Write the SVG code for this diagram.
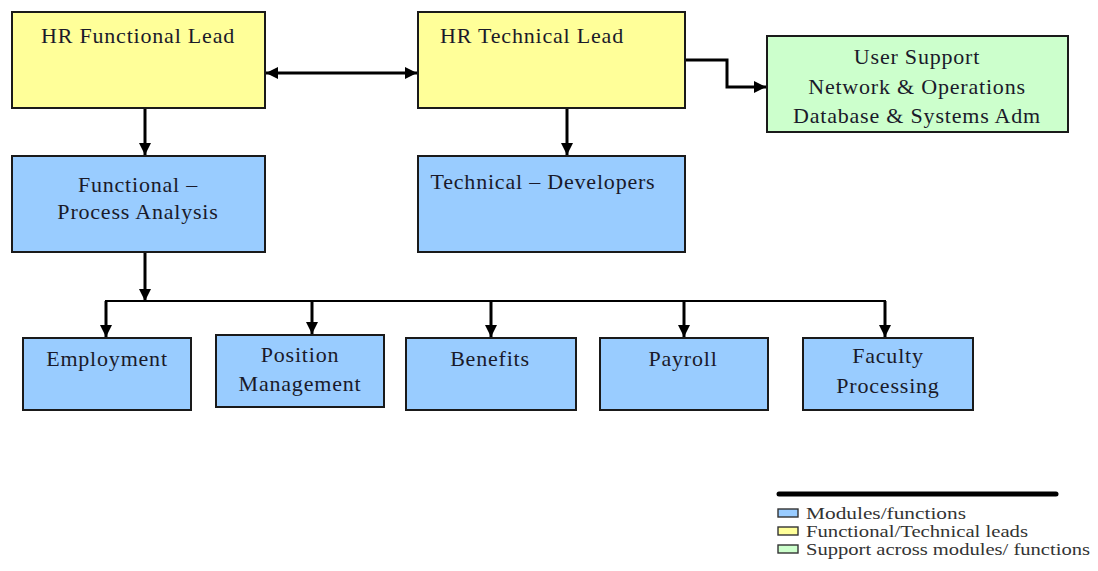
<svg xmlns="http://www.w3.org/2000/svg" width="1098" height="571" viewBox="0 0 1098 571">
  <style>
    .box { stroke: #1a1a1a; stroke-width: 2; }
    .blue { fill: #99ccff; }
    .yellow { fill: #ffff99; }
    .green { fill: #ccffcc; }
    .lbl { font-family: "Liberation Serif", "Times New Roman", serif; font-size: 22px; letter-spacing: 0.8px; fill: #1a1a2a; text-anchor: middle; }
    .leg { font-family: "Liberation Serif", "Times New Roman", serif; font-size: 16px; fill: #333; }
    .wire { fill: none; stroke: #000; stroke-width: 3; }
    .thin { fill: none; stroke: #000; stroke-width: 2; }
  </style>
  <defs>
    <marker id="arrow" viewBox="0 0 10 10" refX="10" refY="5" markerWidth="4" markerHeight="4" orient="auto-start-reverse" markerUnits="strokeWidth">
      <path d="M0,0 L10,5 L0,10 z" fill="#000"/>
    </marker>
  </defs>

  <rect width="1098" height="571" fill="#fff"/>

  <!-- connectors -->
  <g id="connectors">
    <line class="wire" x1="266" y1="73" x2="417" y2="73" marker-start="url(#arrow)" marker-end="url(#arrow)"/>
    <polyline class="wire" points="685,60 727,60 727,87 766,87" marker-end="url(#arrow)"/>
    <line class="wire" x1="145" y1="108" x2="145" y2="155" marker-end="url(#arrow)"/>
    <line class="wire" x1="567" y1="108" x2="567" y2="155" marker-end="url(#arrow)"/>
    <line class="wire" x1="145" y1="252" x2="145" y2="301" marker-end="url(#arrow)"/>
    <line class="thin" x1="105" y1="301" x2="886" y2="301"/>
    <line class="wire" x1="106" y1="301" x2="106" y2="337" marker-end="url(#arrow)"/>
    <line class="wire" x1="312" y1="301" x2="312" y2="334" marker-end="url(#arrow)"/>
    <line class="wire" x1="491" y1="301" x2="491" y2="337" marker-end="url(#arrow)"/>
    <line class="wire" x1="684" y1="301" x2="684" y2="337" marker-end="url(#arrow)"/>
    <line class="wire" x1="885" y1="301" x2="885" y2="337" marker-end="url(#arrow)"/>
  </g>

  <!-- leads -->
  <g id="hr-functional-lead">
    <rect class="box yellow" x="12" y="12" width="253" height="96"/>
    <text class="lbl" x="138" y="43">HR Functional Lead</text>
  </g>
  <g id="hr-technical-lead">
    <rect class="box yellow" x="418" y="12" width="267" height="96"/>
    <text class="lbl" x="532" y="43">HR Technical Lead</text>
  </g>

  <!-- support -->
  <g id="support">
    <rect class="box green" x="767" y="36" width="301" height="96"/>
    <text class="lbl" x="917" y="64">User Support</text>
    <text class="lbl" x="917" y="94">Network &amp; Operations</text>
    <text class="lbl" x="917" y="123">Database &amp; Systems Adm</text>
  </g>

  <!-- second tier -->
  <g id="functional-process-analysis">
    <rect class="box blue" x="12" y="156" width="253" height="96"/>
    <text class="lbl" x="138" y="192">Functional –</text>
    <text class="lbl" x="138" y="219">Process Analysis</text>
  </g>
  <g id="technical-developers">
    <rect class="box blue" x="418" y="156" width="267" height="96"/>
    <text class="lbl" x="543" y="189">Technical – Developers</text>
  </g>

  <!-- modules -->
  <g id="employment">
    <rect class="box blue" x="23" y="338" width="168" height="72"/>
    <text class="lbl" x="107" y="366">Employment</text>
  </g>
  <g id="position-management">
    <rect class="box blue" x="216" y="335" width="168" height="72"/>
    <text class="lbl" x="300" y="362">Position</text>
    <text class="lbl" x="300" y="391">Management</text>
  </g>
  <g id="benefits">
    <rect class="box blue" x="406" y="338" width="170" height="72"/>
    <text class="lbl" x="490" y="366">Benefits</text>
  </g>
  <g id="payroll">
    <rect class="box blue" x="600" y="338" width="168" height="72"/>
    <text class="lbl" x="683" y="366">Payroll</text>
  </g>
  <g id="faculty-processing">
    <rect class="box blue" x="803" y="338" width="170" height="72"/>
    <text class="lbl" x="888" y="363">Faculty</text>
    <text class="lbl" x="888" y="393">Processing</text>
  </g>

  <!-- legend -->
  <g id="legend">
    <line x1="779" y1="494" x2="1056" y2="494" stroke="#000" stroke-width="5" stroke-linecap="round"/>
    <rect x="778" y="509" width="20" height="8" fill="#99ccff" stroke="#333" stroke-width="1.4"/>
    <rect x="778" y="527" width="20" height="8" fill="#ffff99" stroke="#333" stroke-width="1.4"/>
    <rect x="778" y="545" width="20" height="8" fill="#ccffcc" stroke="#333" stroke-width="1.4"/>
    <text class="leg" x="806" y="519" textLength="160" lengthAdjust="spacingAndGlyphs">Modules/functions</text>
    <text class="leg" x="806" y="537" textLength="222" lengthAdjust="spacingAndGlyphs">Functional/Technical leads</text>
    <text class="leg" x="806" y="555" textLength="284" lengthAdjust="spacingAndGlyphs">Support across modules/ functions</text>
  </g>
</svg>
